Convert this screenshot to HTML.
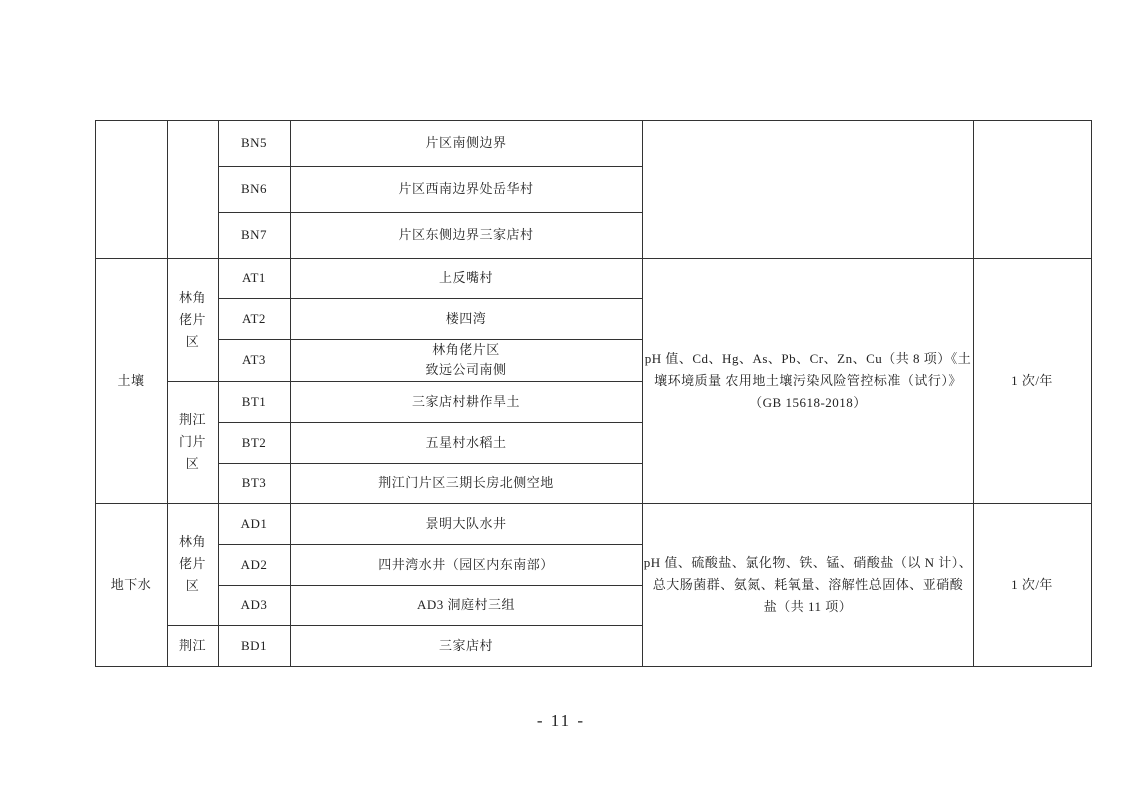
<!DOCTYPE html>
<html><head><meta charset="utf-8"><style>
body{margin:0;width:1122px;height:793px;background:#fff;position:relative;overflow:hidden;font-family:"Liberation Serif","Noto Serif CJK SC",serif;font-size:13px;color:#222}
.h{position:absolute;height:1px;background:#333}
.v{position:absolute;width:1px;background:#333}
.t{position:absolute;display:flex;align-items:center;justify-content:center;text-align:center;line-height:22px;white-space:nowrap;letter-spacing:0.5px}
</style></head><body>
<div class="h" style="left:95px;top:120px;width:997px"></div>
<div class="h" style="left:218px;top:166px;width:425px"></div>
<div class="h" style="left:218px;top:212px;width:425px"></div>
<div class="h" style="left:95px;top:258px;width:997px"></div>
<div class="h" style="left:218px;top:298px;width:425px"></div>
<div class="h" style="left:218px;top:339px;width:425px"></div>
<div class="h" style="left:167px;top:381px;width:476px"></div>
<div class="h" style="left:218px;top:422px;width:425px"></div>
<div class="h" style="left:218px;top:463px;width:425px"></div>
<div class="h" style="left:95px;top:503px;width:997px"></div>
<div class="h" style="left:218px;top:544px;width:425px"></div>
<div class="h" style="left:218px;top:585px;width:425px"></div>
<div class="h" style="left:167px;top:625px;width:476px"></div>
<div class="h" style="left:95px;top:666px;width:997px"></div>
<div class="v" style="left:95px;top:120px;height:547px"></div>
<div class="v" style="left:167px;top:120px;height:547px"></div>
<div class="v" style="left:218px;top:120px;height:547px"></div>
<div class="v" style="left:290px;top:120px;height:547px"></div>
<div class="v" style="left:642px;top:120px;height:547px"></div>
<div class="v" style="left:973px;top:120px;height:547px"></div>
<div class="v" style="left:1091px;top:120px;height:547px"></div>

<div class="t" style="left:218px;top:120px;width:72px;height:46px">BN5</div>
<div class="t" style="left:290px;top:120px;width:352px;height:46px">片区南侧边界</div>
<div class="t" style="left:218px;top:166px;width:72px;height:46px">BN6</div>
<div class="t" style="left:290px;top:166px;width:352px;height:46px">片区西南边界处岳华村</div>
<div class="t" style="left:218px;top:212px;width:72px;height:46px">BN7</div>
<div class="t" style="left:290px;top:212px;width:352px;height:46px">片区东侧边界三家店村</div>

<div class="t" style="left:95px;top:258px;width:72px;height:245px">土壤</div>
<div class="t" style="left:167px;top:258px;width:51px;height:123px">林角<br>佬片<br>区</div>
<div class="t" style="left:167px;top:381px;width:51px;height:122px">荆江<br>门片<br>区</div>
<div class="t" style="left:218px;top:258px;width:72px;height:40px">AT1</div>
<div class="t" style="left:290px;top:258px;width:352px;height:40px">上反嘴村</div>
<div class="t" style="left:218px;top:298px;width:72px;height:41px">AT2</div>
<div class="t" style="left:290px;top:298px;width:352px;height:41px">楼四湾</div>
<div class="t" style="left:218px;top:339px;width:72px;height:42px">AT3</div>
<div class="t" style="left:290px;top:339px;width:352px;height:42px;line-height:20px">林角佬片区<br>致远公司南侧</div>
<div class="t" style="left:218px;top:381px;width:72px;height:41px">BT1</div>
<div class="t" style="left:290px;top:381px;width:352px;height:41px">三家店村耕作旱土</div>
<div class="t" style="left:218px;top:422px;width:72px;height:41px">BT2</div>
<div class="t" style="left:290px;top:422px;width:352px;height:41px">五星村水稻土</div>
<div class="t" style="left:218px;top:463px;width:72px;height:40px">BT3</div>
<div class="t" style="left:290px;top:463px;width:352px;height:40px">荆江门片区三期长房北侧空地</div>
<div class="t" style="left:643px;top:258px;width:330px;height:245px">pH 值、Cd、Hg、As、Pb、Cr、Zn、Cu（共 8 项）《土<br>壤环境质量 农用地土壤污染风险管控标准（试行）》<br>（GB 15618-2018）</div>
<div class="t" style="left:973px;top:258px;width:118px;height:245px">1 次/年</div>

<div class="t" style="left:95px;top:503px;width:72px;height:163px">地下水</div>
<div class="t" style="left:167px;top:503px;width:51px;height:122px">林角<br>佬片<br>区</div>
<div class="t" style="left:167px;top:625px;width:51px;height:41px">荆江</div>
<div class="t" style="left:218px;top:503px;width:72px;height:41px">AD1</div>
<div class="t" style="left:290px;top:503px;width:352px;height:41px">景明大队水井</div>
<div class="t" style="left:218px;top:544px;width:72px;height:41px">AD2</div>
<div class="t" style="left:290px;top:544px;width:352px;height:41px">四井湾水井（园区内东南部）</div>
<div class="t" style="left:218px;top:585px;width:72px;height:40px">AD3</div>
<div class="t" style="left:290px;top:585px;width:352px;height:40px">AD3 洞庭村三组</div>
<div class="t" style="left:218px;top:625px;width:72px;height:41px">BD1</div>
<div class="t" style="left:290px;top:625px;width:352px;height:41px">三家店村</div>
<div class="t" style="left:643px;top:503px;width:330px;height:163px">pH 值、硫酸盐、氯化物、铁、锰、硝酸盐（以 N 计）、<br>总大肠菌群、氨氮、耗氧量、溶解性总固体、亚硝酸<br>盐（共 11 项）</div>
<div class="t" style="left:973px;top:503px;width:118px;height:163px">1 次/年</div>

<div class="t" style="left:500px;top:708px;width:122px;height:26px;font-size:17px;letter-spacing:2px">- 11 -</div>
</body></html>
